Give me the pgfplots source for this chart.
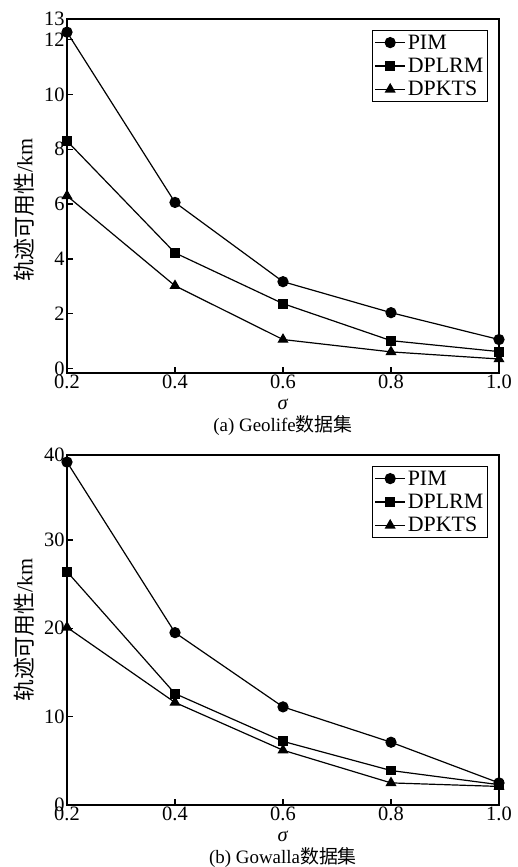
\documentclass[border=0pt]{standalone}
\usepackage{fontspec}
\usepackage{pgfplots}
\pgfplotsset{compat=1.18}
\setmainfont{Liberation Serif}
\newfontfamily\cjk{Noto Sans CJK SC}

\pgfplotstableread{
x pim dplrm dpkts
0.2 12.27 8.30 6.30
0.4 6.06 4.22 3.02
0.6 3.17 2.37 1.06
0.8 2.04 1.02 0.61
1.0 1.06 0.62 0.35
}\geolife

\pgfplotstableread{
x pim dplrm dpkts
0.2 38.8 26.4 20.1
0.4 19.5 12.6 11.6
0.6 11.1 7.2 6.2
0.8 7.1 3.9 2.5
1.0 2.5 2.3 2.1
}\gowalla

\pgfplotsset{
  mystyle/.style={
    scale only axis, width=432bp,
    xmin=0.2, xmax=1.0,
    xtick={0.2,0.4,0.6,0.8,1.0},
    xticklabels={0.2,0.4,0.6,0.8,1.0},
    tick align=inside, xtick pos=lower, ytick pos=left,
    major tick length=6bp,
    axis line style={line width=1.6bp},
    every tick/.style={line width=1.4bp, black},
    ticklabel style={font=\fontsize{20.5}{24}\selectfont},
    xticklabel style={yshift=2bp},
    yticklabel style={xshift=1bp},
    /pgf/number format/assume math mode=true,
    clip=false,
    ylabel style={anchor=center, rotate=0, font=\fontsize{22}{26}\selectfont},
    ylabel={{\cjk 轨迹可用性}/km},
    legend style={font=\fontsize{22}{25}\selectfont, at={(1,1)}, anchor=north east,
      xshift=-11bp, yshift=-11bp, draw=black, line width=1.4bp,
      inner xsep=2bp, inner ysep=2bp, row sep=3.5bp, cells={anchor=west}},
    legend image code/.code={%
      \draw[mark repeat=2,mark phase=2,##1] plot coordinates {(0bp,0bp)(15bp,0bp)(30bp,0bp)};},
  },
  pim/.style={black, line width=1.2bp, mark=*, mark size=5bp, mark options={solid}},
  dplrm/.style={black, line width=1.2bp, mark=square*, mark size=4.3bp, mark options={solid}},
  dpkts/.style={black, line width=1.2bp, mark=triangle*, mark size=5.2bp, mark options={solid}},
}

\begin{document}
\begin{tikzpicture}
\useasboundingbox (0,0) rectangle (518bp,867bp);

\begin{axis}[mystyle,
  at={(67bp,494bp)}, anchor=south west, height=354bp,
  ymin=-0.16, ymax=12.75,
  ytick={0,2,4,6,8,10,12,12.75},
  yticklabels={0,2,4,6,8,10,12,13},
  ylabel style={at={(axis description cs:-0.0995,0.46)}},
]
\addplot[pim] table[x=x,y=pim] {\geolife};
\addplot[dplrm] table[x=x,y=dplrm] {\geolife};
\addplot[dpkts] table[x=x,y=dpkts] {\geolife};
\legend{PIM,DPLRM,DPKTS}
\node[font=\fontsize{20.5}{24}\selectfont] at (rel axis cs:0.5,0) [yshift=-31bp] {\textit{σ}};
\node[font=\fontsize{19}{23}\selectfont] at (rel axis cs:0.5,0) [yshift=-53bp] {(a) Geolife{\cjk 数据集}};
\end{axis}

\begin{axis}[mystyle,
  at={(67bp,62bp)}, anchor=south west, height=350bp,
  ymin=0, ymax=39.6,
  ytick={0,10,20,30,39.6},
  yticklabels={0,10,20,30,40},
  ylabel style={at={(axis description cs:-0.0995,0.5)}},
]
\addplot[pim] table[x=x,y=pim] {\gowalla};
\addplot[dplrm] table[x=x,y=dplrm] {\gowalla};
\addplot[dpkts] table[x=x,y=dpkts] {\gowalla};
\legend{PIM,DPLRM,DPKTS}
\node[font=\fontsize{20.5}{24}\selectfont] at (rel axis cs:0.5,0) [yshift=-31bp] {\textit{σ}};
\node[font=\fontsize{19}{23}\selectfont] at (rel axis cs:0.5,0) [yshift=-52.5bp] {(b) Gowalla{\cjk 数据集}};
\end{axis}
\end{tikzpicture}
\end{document}
